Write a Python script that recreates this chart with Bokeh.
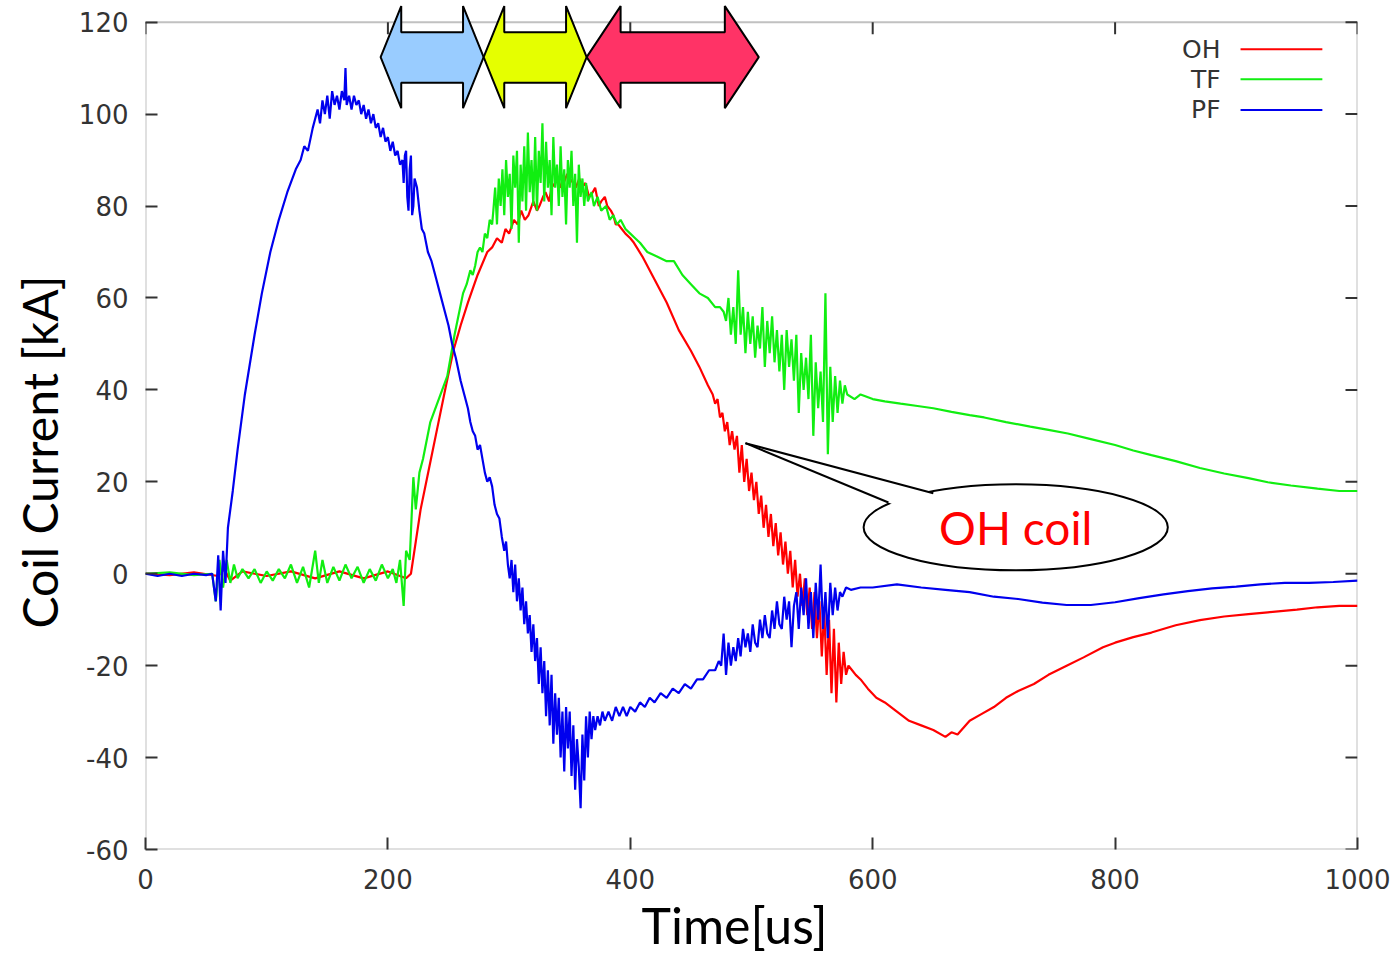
from bokeh.plotting import figure
from bokeh.models import Range1d, FixedTicker, BoxAnnotation, Label, Title
from bokeh.core.properties import value
from bokeh.embed import file_html
from bokeh.resources import INLINE

# ---------------- data ----------------
x_ticks = [0, 200, 400, 600, 800, 1000]
y_ticks = [-60, -40, -20, 0, 20, 40, 60, 80, 100, 120]

# PF coil current: (time [us], current [kA])
pf_points = [
    (0, 0), (10, -0.5), (20, 0), (30, -0.5), (40, 0), (50, -0.3), (55, 0), (58, -6),
    (60, 4), (62, -8), (64, 5), (66, -2), (68, 10), (72, 18), (76, 27), (82, 39),
    (90, 52), (96, 61), (103, 70), (110, 77), (117, 83), (124, 88), (128, 90),
    (131, 93), (134, 92), (138, 97), (140, 99), (142, 101), (144, 98), (146, 103),
    (148, 100), (150, 104), (152, 99), (154, 105), (156, 102), (158, 104), (160, 101),
    (162, 105), (164, 103), (165, 110), (166, 102), (168, 104), (170, 101), (172, 104),
    (174, 102), (176, 103), (178, 100), (180, 102), (182, 99), (184, 101), (186, 98),
    (188, 100), (190, 97), (192, 98), (194, 95), (196, 97), (198, 94), (200, 95),
    (202, 92), (204, 94), (206, 91), (208, 92), (210, 89), (212, 90), (213, 85),
    (214, 91), (215, 92), (216, 82), (217, 79), (218, 88), (219, 91), (220, 78),
    (221, 80), (222, 86), (224, 84), (226, 79), (228, 75), (230, 74), (233, 70),
    (236, 68), (240, 64), (243, 61), (247, 57), (250, 54), (253, 50), (256, 47),
    (260, 42), (263, 39), (266, 36), (268, 33), (270, 31), (272, 30), (274, 27),
    (276, 28), (278, 25), (280, 22), (282, 20), (284, 21), (286, 19), (288, 15),
    (290, 13), (292, 12), (294, 8), (296, 5), (297.5, 7), (299, 2), (300.5, -1),
    (302, 3), (303.5, -4), (305, 2), (306.5, -6), (308, -1), (309.5, -8), (311, -3),
    (312.5, -11), (314, -6), (315.5, -13), (317, -9), (318.5, -17), (320, -11),
    (321.5, -19), (323, -14), (324.5, -24), (326, -16), (327.5, -26), (329, -19),
    (330.5, -31), (332, -21), (333.5, -33), (335, -22), (336.5, -37), (338, -26),
    (339.5, -35), (341, -27), (342.5, -40), (344, -30), (345.5, -43), (347, -29),
    (348.5, -38), (350, -30), (351.5, -44), (353, -33), (354.5, -47), (356, -36),
    (357.5, -42), (359, -51), (360.5, -35), (362, -45), (363.5, -31), (365, -40),
    (366.5, -30), (368, -36), (369.5, -31), (371, -34), (373, -31), (375, -33),
    (377, -30), (379, -32), (382, -30), (385, -32), (388, -29), (391, -31), (394, -29),
    (397, -31), (400, -29), (404, -30), (408, -28), (412, -29), (416, -27), (420, -28),
    (425, -26), (430, -27), (435, -25), (440, -26), (445, -24), (450, -25), (455, -23),
    (460, -23), (465, -21), (470, -21), (473, -19), (475, -20), (477, -13), (479, -22),
    (481, -15), (483, -20), (485, -16), (487, -19), (489, -14), (491, -18), (493, -12),
    (495, -16), (497, -13), (499, -17), (501, -11), (503, -15), (505, -16), (507, -10),
    (509, -14), (511, -9), (513, -13), (515, -14), (517, -8), (519, -12), (521, -6),
    (523, -11), (525, -12), (527, -5), (529, -10), (531, -6), (533, -16), (535, -7),
    (537, -4), (539, -12), (541, -3), (543, -9), (545, -1), (547, -12), (549, -4),
    (551, -14), (553, -2), (555, -10), (557, 2), (559, -12), (561, -4), (563, -14),
    (565, -2), (567, -9), (569, -3), (571, -8), (573, -4), (575, -5), (578, -3),
    (582, -3.5), (590, -3), (600, -3), (620, -2.3), (640, -3), (660, -3.5), (680, -4),
    (700, -5), (720, -5.5), (740, -6.3), (760, -6.8), (780, -6.8), (800, -6.2),
    (820, -5.3), (840, -4.5), (860, -3.8), (880, -3.2), (900, -2.8), (920, -2.3),
    (940, -2), (960, -2), (980, -1.8), (1000, -1.5),
]

# OH coil current
oh_points = [
    (0, 0), (20, -0.3), (40, 0.3), (60, -0.5), (65, 1), (70, -1.5), (80, 0.5),
    (100, -0.5), (120, 0.5), (140, -1), (160, 0.5), (180, -1), (200, 0.5), (210, -0.5),
    (215, -1), (219, 0), (223, 7), (227, 14), (234, 23), (241, 32), (248, 41),
    (254, 48.5), (260, 54), (266, 59), (274, 65), (282, 70), (286, 71), (290, 73),
    (294, 72), (297, 75), (300, 74), (304, 77), (307, 76), (310, 79), (313, 77),
    (316, 78), (320, 81), (323, 79), (325, 80), (328, 82), (330, 83), (333, 81),
    (335, 84), (338, 85), (340, 86), (343, 84), (345, 85), (348, 87), (350, 86),
    (353, 85), (355, 84), (358, 86), (360, 84), (363, 85), (366, 82), (369, 83),
    (371, 84), (374, 80), (376, 81), (379, 82), (381, 80), (384, 79), (386, 78),
    (388, 76), (390, 76), (393, 75), (396, 74), (400, 73), (403, 72), (410, 69),
    (420, 64), (430, 59), (440, 53), (450, 48.5), (457, 45), (464, 41), (468, 39),
    (470, 37), (472, 38), (474, 34), (476, 35), (478, 31), (480, 33), (482, 28),
    (484, 31), (486, 27), (488, 30), (490, 22), (492, 28), (494, 20), (496, 25),
    (498, 18), (500, 22), (502, 16), (504, 20), (506, 13), (508, 17), (510, 10),
    (512, 15), (514, 8), (516, 13), (518, 6), (520, 11), (522, 4), (524, 9), (526, 2),
    (528, 7), (530, 0), (532, 5), (534, -3), (536, 3), (538, -5), (540, 0), (542, -7),
    (544, -1), (546, -9), (548, -3), (550, -12), (552, -4), (554, -14), (556, -6),
    (558, -18), (560, -8), (562, -22), (564, -10), (566, -26), (568, -12), (570, -28),
    (572, -15), (574, -24), (576, -17), (578, -22), (580, -20), (583, -21), (586, -22),
    (590, -23), (596, -25), (603, -27), (610, -28), (620, -30), (630, -32), (640, -33),
    (650, -34), (660, -35.5), (665, -34.5), (670, -35), (680, -32), (690, -30.5),
    (700, -29), (710, -27), (720, -25.5), (733, -24), (745, -22), (760, -20),
    (774, -18.2), (790, -16), (800, -15), (815, -13.8), (830, -12.8), (850, -11.2),
    (870, -10.1), (890, -9.3), (910, -8.8), (926, -8.4), (950, -7.8), (967, -7.3),
    (985, -7), (1000, -7),
]

# TF coil current
tf_points = [
    (0, 0), (20, 0.3), (40, -0.3), (55, 0), (58, -6), (61, 3), (64, -3), (67, 3),
    (70, -2), (73, 2), (76, -1), (80, 1), (85, -1), (90, 1), (95, -2), (100, 0.5),
    (105, -1.5), (110, 1), (115, -1), (120, 2), (125, -2), (130, 1.5), (135, -3),
    (140, 5), (143, -2), (146, 3), (150, -2), (155, 1.5), (160, -1.5), (165, 2),
    (170, -1), (175, 1.5), (180, -2), (185, 1), (190, -1.5), (195, 2), (200, -1),
    (204, 1), (207, -2), (210, 3), (213, -7), (215, 5), (218, 3), (221, 21), (223, 14),
    (226, 22), (229, 25), (235, 33), (242, 38), (249, 43), (255, 52), (262, 61),
    (265, 63), (268, 66), (270, 65), (272, 67), (274, 70), (276, 71), (278, 70),
    (280, 74), (282, 73), (284, 77), (286, 76), (287, 79), (288.5, 84), (290, 76),
    (291.5, 86), (293, 80), (294.5, 88), (296, 78), (297.5, 90), (299, 82), (300.5, 87),
    (302, 75), (303.5, 91), (305, 84), (306.5, 92), (308, 72), (309.5, 89), (311, 81),
    (312.5, 93), (314, 79), (315.5, 96), (317, 83), (318.5, 90), (320, 80), (321.5, 95),
    (323, 79), (324.5, 92), (326, 85), (327.5, 98), (329, 81), (330.5, 94), (332, 84),
    (333.5, 90), (335, 78), (336.5, 95), (338, 84), (339.5, 89), (341, 80), (342.5, 93),
    (344, 82), (345.5, 88), (347, 76), (348.5, 90), (350, 84), (351.5, 92), (353, 80),
    (354.5, 87), (356, 72), (357.5, 89), (359, 82), (360.5, 86), (362, 80), (363.5, 85),
    (365, 81), (368, 83), (370, 80), (373, 82), (376, 79), (380, 80), (383, 77),
    (386, 78), (389, 76), (392, 77), (396, 75), (400, 74), (404, 73), (408, 72),
    (414, 70), (422, 69), (430, 68), (436, 68), (443, 65), (450, 63), (457, 61),
    (464, 60), (470, 58), (474, 58), (477, 57), (479, 55), (481, 60), (483, 52),
    (485, 58), (487, 50), (489, 66), (491, 52), (493, 58), (495, 48), (497, 57),
    (499, 50), (501, 56), (503, 47), (505, 54), (507, 49), (509, 58), (511, 45),
    (513, 55), (515, 48), (517, 56), (519, 46), (521, 53), (523, 44), (525, 52),
    (527, 40), (529, 53), (531, 45), (533, 51), (535, 42), (537, 52), (539, 35),
    (541, 48), (543, 40), (545, 47), (547, 38), (549, 52), (551, 30), (553, 46),
    (555, 36), (557, 44), (559, 33), (561, 61), (563, 26), (565, 45), (567, 33),
    (569, 43), (571, 35), (573, 42), (575, 37), (577, 41), (579, 39), (585, 38),
    (590, 39), (600, 38), (610, 37.5), (623, 37), (637, 36.5), (650, 36), (665, 35.2),
    (680, 34.5), (692, 34), (710, 33), (730, 32), (745, 31.3), (761, 30.5),
    (780, 29.3), (800, 28), (815, 26.8), (830, 25.8), (850, 24.5), (870, 23),
    (890, 21.8), (910, 20.8), (926, 19.9), (945, 19.2), (967, 18.5), (985, 18),
    (1000, 18),
]

series_names = ["OH", "TF", "PF"]
series_colors = ["#ff0000", "#11ee11", "#0000ee"]

# phase arrows at the top (start, end, head length in time units)
phase_start = [194, 279, 364]
phase_end = [279, 364, 506]
phase_head = [17, 17, 28]
phase_colors = ["#99ccff", "#e5ff00", "#ff3366"]

# ---------------- figure ----------------
Y_TOP = 124.5
p = figure(width=1399, height=955,
           x_range=Range1d(0, 1000), y_range=Range1d(-60, Y_TOP),
           output_backend="svg", toolbar_location=None,
           min_border_left=145, min_border_right=42,
           min_border_top=1, min_border_bottom=106)
p.grid.visible = False
p.outline_line_color = None
p.background_fill_color = "white"

TICK_FONT = "DejaVu Sans"
for ax in p.xaxis + p.yaxis:
    ax.axis_line_color = None
    ax.major_tick_in = 12
    ax.major_tick_out = 0
    ax.minor_tick_line_color = None
    ax.major_tick_line_color = "#333333"
    ax.major_tick_line_width = 2
    ax.major_label_text_font = TICK_FONT
    ax.major_label_text_font_size = "26px"
    ax.major_label_text_color = "#333333"
p.xaxis.ticker = FixedTicker(ticks=x_ticks)
p.yaxis.ticker = FixedTicker(ticks=y_ticks)
p.yaxis.major_label_overrides = {t: str(t) for t in y_ticks}
p.xaxis.major_label_standoff = 19
p.yaxis.major_label_standoff = 17

# border box
p.add_layout(BoxAnnotation(left=0, right=1000, bottom=-60, top=120,
                           fill_alpha=0, line_color="#333333", line_width=2,
                           level="underlay"))

# mirror ticks (top and right)
tlen_y = 12 / 4.594
tlen_x = 12 / 1.212
p.segment(x0=x_ticks, y0=[120] * len(x_ticks), x1=x_ticks,
          y1=[120 - tlen_y] * len(x_ticks), line_color="#333333", line_width=2)
p.segment(x0=[1000] * len(y_ticks), y0=y_ticks, x1=[1000 - tlen_x] * len(y_ticks),
          y1=y_ticks, line_color="#333333", line_width=2)

# data
for pts, c in [(oh_points, series_colors[0]),
               (tf_points, series_colors[1]),
               (pf_points, series_colors[2])]:
    p.line([q[0] for q in pts], [q[1] for q in pts], line_color=c, line_width=2.2)

# legend (gnuplot style: label then sample line)
leg_y = [114.1, 107.6, 100.9]
p.segment(x0=[903.5] * 3, y0=leg_y, x1=[971] * 3, y1=leg_y,
          line_color=series_colors, line_width=2)
p.text(x=[887] * 3, y=leg_y, text=series_names, text_align="right",
       text_baseline="middle", text_font=value(TICK_FONT),
       text_font_size="25px", text_color="#333333")

# phase arrows (double-headed block arrows)
mid, top, btop, bbot, bot = 112.4, 123.5, 117.8, 106.8, 101.3
xs, ys = [], []
for a, b, h in zip(phase_start, phase_end, phase_head):
    xs.append([a, a + h, a + h, b - h, b - h, b, b - h, b - h, a + h, a + h])
    ys.append([mid, top, btop, btop, top, mid, bot, bbot, bbot, bot])
p.patches(xs, ys, fill_color=phase_colors, line_color="black", line_width=2)

# callout "OH coil"
tip = (495, 28.4)
A, B = (650, 17.5), (613, 15.5)
Ai, Bi = (668, 14.0), (640, 12.5)
p.ellipse(x=[718], y=[10.1], width=[251], height=[18.7],
          fill_color="white", line_color="black", line_width=2)
p.patch([tip[0], A[0], Ai[0], Bi[0], B[0]], [tip[1], A[1], Ai[1], Bi[1], B[1]],
        fill_color="white", line_color=None)
p.multi_line([[tip[0], A[0]], [tip[0], B[0]]], [[tip[1], A[1]], [tip[1], B[1]]],
             line_color="black", line_width=2)
p.add_layout(Label(x=718, y=10.1, text="OH coil", text_align="center",
                   text_baseline="middle", text_font="Lato",
                   text_font_size="46px", text_color="#ff0000"))

# axis titles
p.add_layout(Title(text="Time[us]", align="left", offset=496, standoff=2,
                   text_font="Lato", text_font_size="50px",
                   text_font_style="normal", text_color="black"), "below")
p.add_layout(Title(text="Coil Current [kA]", align="left", offset=221, standoff=15,
                   text_font="Lato", text_font_size="48px",
                   text_font_style="normal", text_color="black"), "left")

open("out.html", "w").write(file_html(p, INLINE))
